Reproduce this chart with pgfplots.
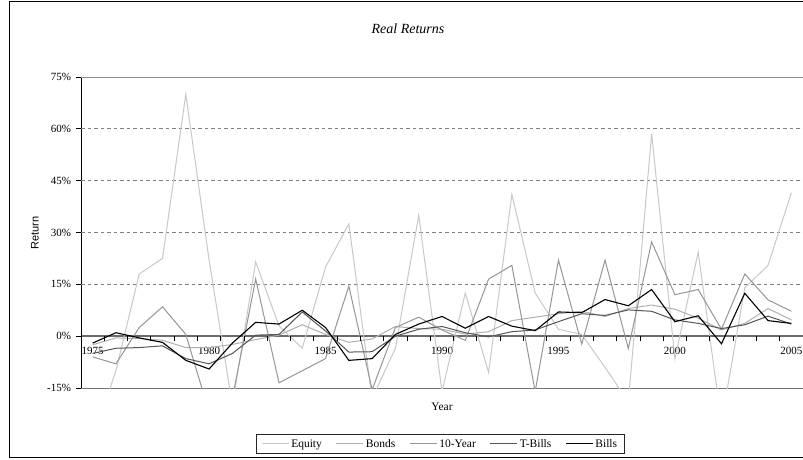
\documentclass[border=0pt]{standalone}
\usepackage{fontspec}
\setmainfont{Liberation Serif}
\setsansfont{Liberation Sans}
\usepackage{pgfplots}
\pgfplotsset{compat=1.18}
\usepackage{pgfplotstable}

\definecolor{cEq}{HTML}{C8C8C8}
\definecolor{cBo}{HTML}{B0B0B0}
\definecolor{cTen}{HTML}{969696}
\definecolor{cTb}{HTML}{555555}
\definecolor{cBi}{HTML}{000000}

\pgfplotstableread{
year equity bonds tenyear tbills bills
1975 -30   -2.5  -6    -5    -2
1976 -10   -0.5  -8    -3.5   1
1977  18   -0.7   2.5  -3.3  -0.5
1978  22.5 -1.2   8.5  -2.8  -1.8
1979  70   -3.3   0.5  -6.5  -7
1980  22   -3.3 -22    -8    -9.5
1981 -20   -2.4 -18    -5    -2
1982  21.5 -1    16.5   0.3   4
1983   3    0.3 -13.5   0.5   3.5
1984  -3.5  3.3 -10     7     7.5
1985  20    0.5  -6.5   1.5   2.5
1986  32.5 -1.8  14.5  -4.6  -7
1987 -18   -0.8 -15.5  -4.5  -6.5
1988  -3.5  2.8   2.5   0     0.5
1989  35    2.2   5.5   2     3.5
1990 -16    2     1.8   2.8   5.7
1991  12.5  0.6  -1.2   1     2.3
1992 -10.5  1.3  16.5  -0.2   5.7
1993  41    4.5  20.5   1.3   2.9
1994  12.5  5.5 -16     1.8   1.6
1995   2    6.5  22     4.2   7
1996   0.5  7.2  -2.3   6.5   6.8
1997  -9    5.7  22     6    10.6
1998 -19    8    -3.6   7.6   8.8
1999  58.5  9    27.3   7.2  13.5
2000  -6.5  7.8  12     4.7   4.2
2001  24.3  5.2  13.5   3.7   5.9
2002 -25    1.8   2     2.2  -2.2
2003  14    3.7  18     3.3  12.4
2004  20.5  8    10.5   5.8   4.5
2005  41.5  4.7   7.2   3.5   3.7
}\datatable

\begin{document}
\begin{tikzpicture}[x=1pt,y=1pt]
\useasboundingbox (0,0) rectangle (803,459);
\clip (0,0) rectangle (803,459);
\fill[white] (0,0) rectangle (803,459);
\draw[black, line width=1pt] (9,2) rectangle (830,457);
\node[font=\itshape\fontsize{14}{16}\selectfont] at (408,430) {Real Returns};
\node[font=\fontsize{11.5}{13}\selectfont] at (442,52) {Year};
\node[font=\sffamily\fontsize{11}{13}\selectfont, rotate=90] at (35,226) {Return};
\begin{axis}[
  at={(81pt,71pt)}, anchor=south west,
  scale only axis, width=722pt, height=311pt,
  xmin=1974.5, xmax=2005.5, ymin=-15, ymax=75,
  axis x line=middle, axis y line=left,
  every inner x axis line/.append style={-},
  every outer y axis line/.append style={-},
  x axis line style={-, draw=black!58, line width=1.6pt},
  y axis line style={-, draw=black, line width=0.9pt},
  xtick={1975,1980,1985,1990,1995,2000,2005},
  xticklabels={1975,1980,1985,1990,1995,2000,2005},
  major x tick style={draw=none},
  ytick={-15,0,15,30,45,60,75},
  yticklabels={-15\%,0\%,15\%,30\%,45\%,60\%,75\%},
  ytick align=outside,
  major tick length=5pt,
  y tick style={draw=black, line width=0.8pt},
  tick label style={font=\fontsize{11}{12}\selectfont},
  xticklabel style={yshift=-5pt},
  yticklabel style={xshift=-1.5pt},
  extra y ticks={15,30,45,60},
  extra y tick labels={},
  extra y tick style={grid=major},
  major grid style={draw=black!50, dash pattern=on 3.5pt off 3pt, line width=0.8pt},
  legend style={at={(0.4975,-0.18)}, anchor=center, draw=black!85, line width=0.9pt,
    font=\fontsize{11.5}{13}\selectfont, inner xsep=5pt, inner ysep=2.5pt,
    /tikz/every even column/.append style={column sep=12pt}},
  legend columns=5,
  legend image code/.code={\draw[#1, line width=1pt] (0pt,0pt) -- (27pt,0pt);},
  clip=true,
]
\draw[black!45, line width=1.2pt] (rel axis cs:0,1) -- (rel axis cs:1,1);
\draw[black!55, line width=0.8pt] (rel axis cs:0,0) -- (rel axis cs:1,0);
\addplot[color=cEq, line width=1pt, mark=none] table[x=year,y=equity]{\datatable};
\addlegendentry{Equity}
\addplot[color=cBo, line width=1pt, mark=none] table[x=year,y=bonds]{\datatable};
\addlegendentry{Bonds}
\addplot[color=cTen, line width=1pt, mark=none] table[x=year,y=tenyear]{\datatable};
\addlegendentry{10-Year}
\addplot[color=cTb, line width=1pt, mark=none] table[x=year,y=tbills]{\datatable};
\addlegendentry{T-Bills}
\addplot[color=cBi, line width=1.1pt, mark=none] table[x=year,y=bills]{\datatable};
\addlegendentry{Bills}
\end{axis}
% tick marks (axis decoration): between categories on the 0% line, and on the y axis
\foreach \i in {0,...,31} {
  \draw[black, line width=0.9pt] ({81+\i*23.2903},122.8) -- ++(0,-5);
}
\foreach \k in {0,...,6} {
  \draw[black, line width=0.8pt] (81,{71+\k*51.8333}) -- ++(-5,0);
}
\end{tikzpicture}
\end{document}
